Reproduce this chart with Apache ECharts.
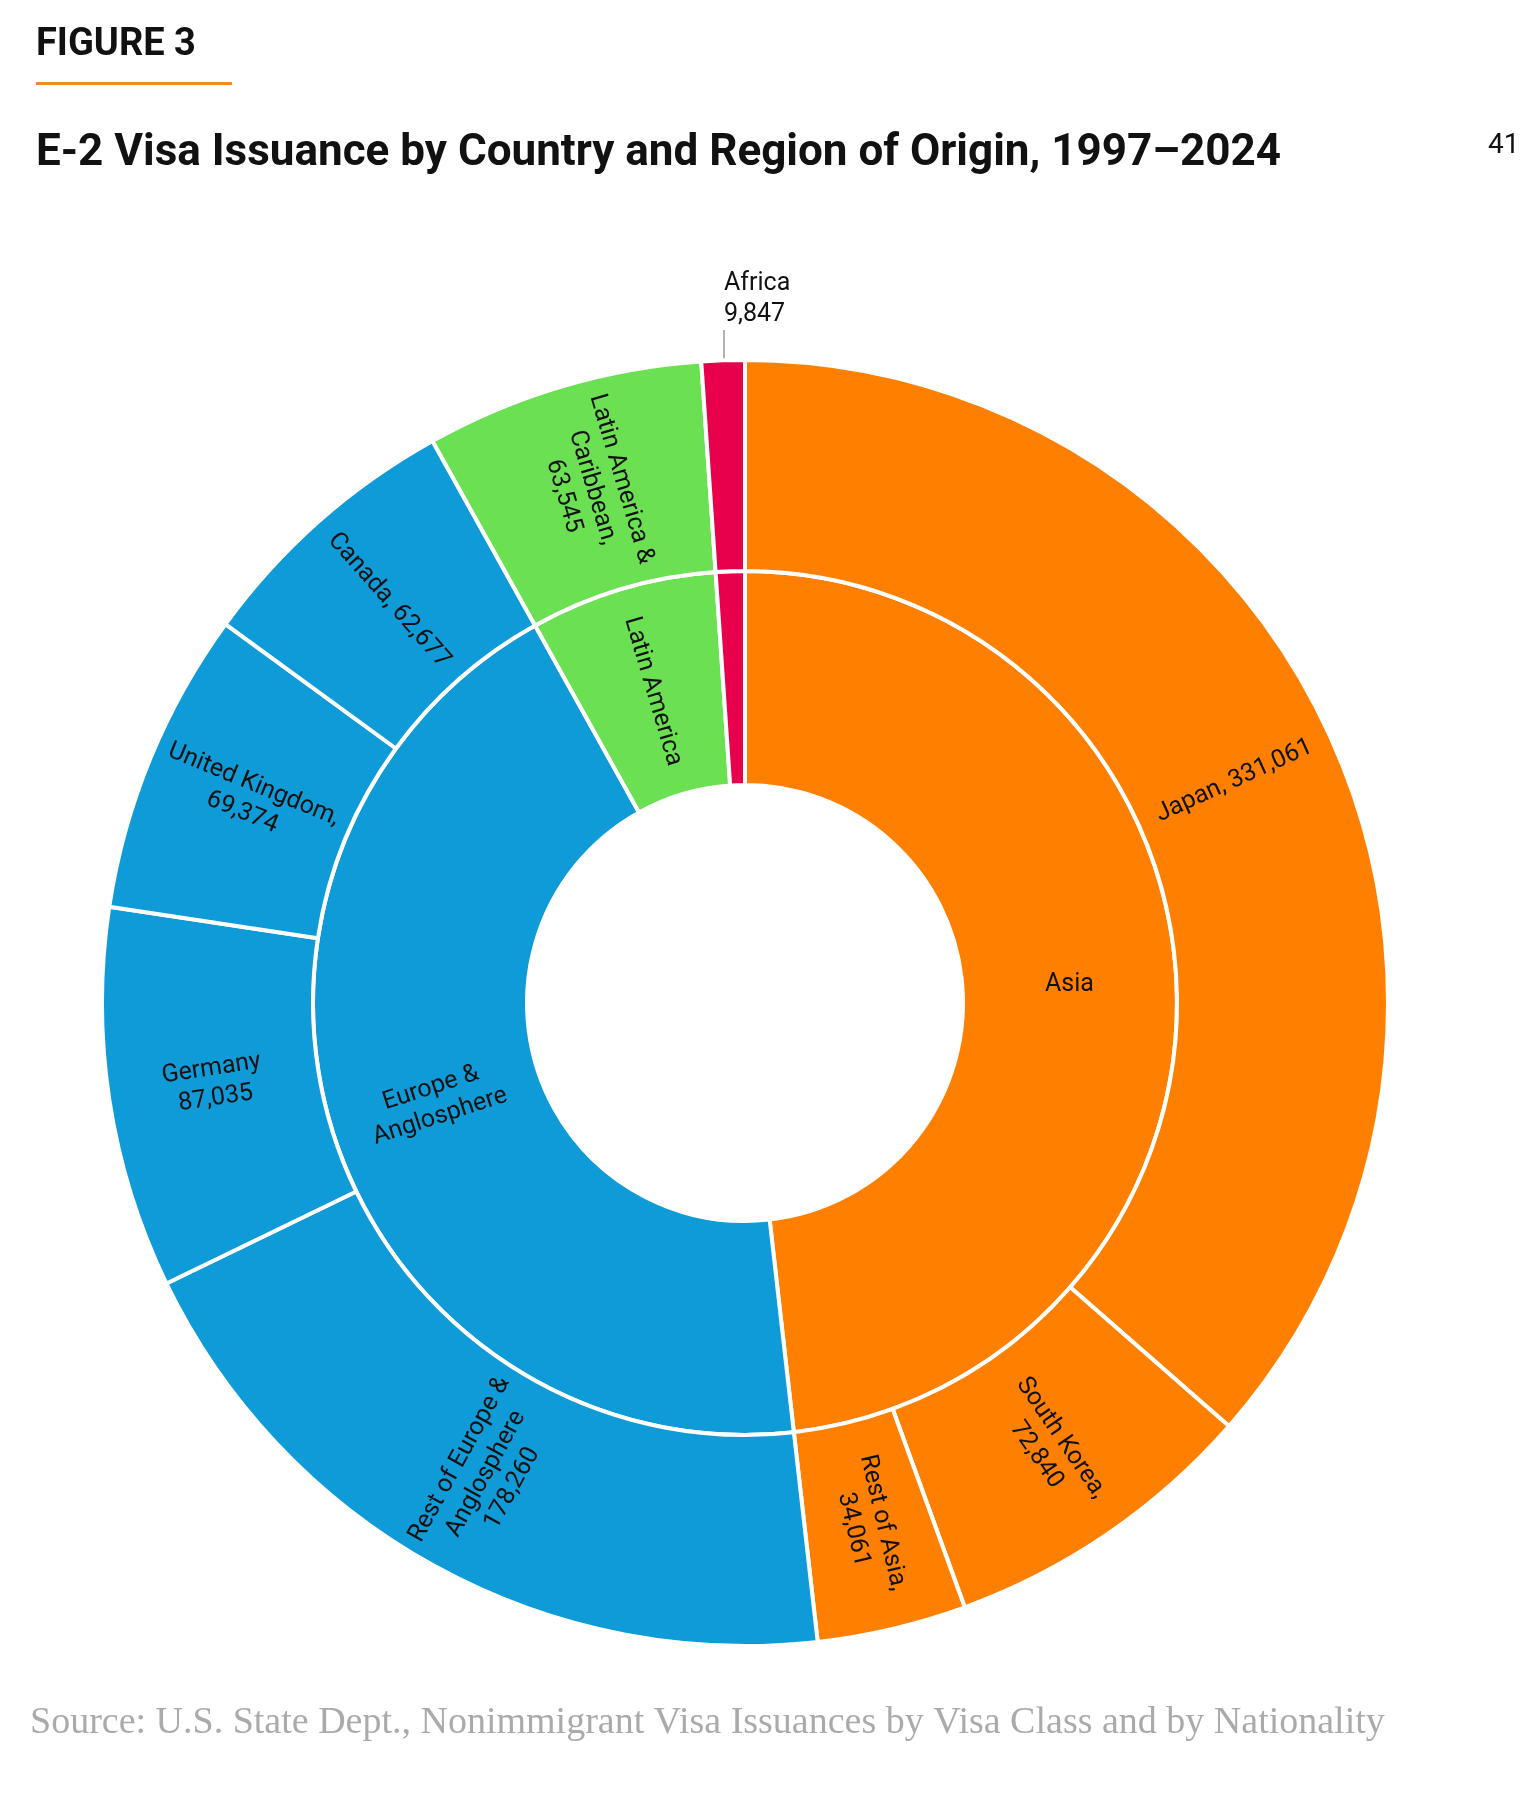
<!DOCTYPE html>
<html><head><meta charset="utf-8">
<script src="https://cdn.jsdelivr.net/npm/echarts@6/dist/echarts.min.js"></script>
<style>body{margin:0;background:#fff}#c{width:1540px;height:1800px}</style>
</head><body><div id="c"></div>
<script>
var regions = ['Asia', 'Europe &\nAnglosphere', 'Latin America', 'Africa'];
var regionColors = ['#FF8000', '#0F9BD7', '#6BE052', '#E8004C'];
var countries = [
  [['Japan, 331,061', 331061], ['South Korea,\n72,840', 72840], ['Rest of Asia,\n34,061', 34061]],
  [['Rest of Europe &\nAnglosphere\n178,260', 178260], ['Germany\n87,035', 87035], ['United Kingdom,\n69,374', 69374], ['Canada, 62,677', 62677]],
  [['Latin America &\nCaribbean,\n63,545', 63545]],
  [['', 9847]]
];

var data = regions.map(function (r, i) {
  return {
    name: r,
    itemStyle: { color: regionColors[i] },
    label: { rotate: i === 2 ? 'radial' : (i === 1 ? 18 : 0), show: i !== 3 },
    children: countries[i].map(function (c) {
      return { name: c[0], value: c[1], itemStyle: { color: regionColors[i] } };
    })
  };
});

var chart = echarts.init(document.getElementById('c'));
chart.setOption({
  backgroundColor: '#fff',
  graphic: [
    { type: 'text', left: 36, top: 26, style: { text: 'FIGURE 3', font: 'bold 38px Roboto', fill: '#111' } },
    { type: 'rect', left: 36, top: 82, shape: { width: 196, height: 3 }, style: { fill: '#F08A24' } },
    { type: 'text', left: 36, top: 132, style: { text: 'E-2 Visa Issuance by Country and Region of Origin, 1997\u20132024', font: 'bold 44px Roboto', fill: '#111' } },
    { type: 'text', left: 1488, top: 132, style: { text: '41', font: '28px Roboto', fill: '#111' } },
    { type: 'text', left: 724, top: 268, style: { text: 'Africa\n9,847', font: '25px Roboto', fill: '#111', align: 'center', lineHeight: 31 } },
    { type: 'line', shape: { x1: 724, y1: 330, x2: 724, y2: 405 }, style: { stroke: '#999', lineWidth: 1.5 } },
    { type: 'text', left: 30, top: 1704, style: { text: 'Source: U.S. State Dept., Nonimmigrant Visa Issuances by Visa Class and by Nationality', font: '38px "Liberation Serif"', fill: '#aaa' } }
  ],
  series: [{
    type: 'sunburst',
    center: [745, 1003],
    radius: [218, 643],
    startAngle: 90,
    clockwise: true,
    sort: null,
    nodeClick: false,
    data: data,
    itemStyle: { borderColor: '#fff', borderWidth: 4 },
    label: { color: '#111', fontSize: 25, fontFamily: 'Roboto', lineHeight: 30 },
    levels: [{}, {
      r0: 218, r: 432,
      label: { align: 'center' }
    }, {
      r0: 432, r: 643,
      label: { rotate: 'radial', align: 'center' }
    }]
  }]
});
</script></body></html>
